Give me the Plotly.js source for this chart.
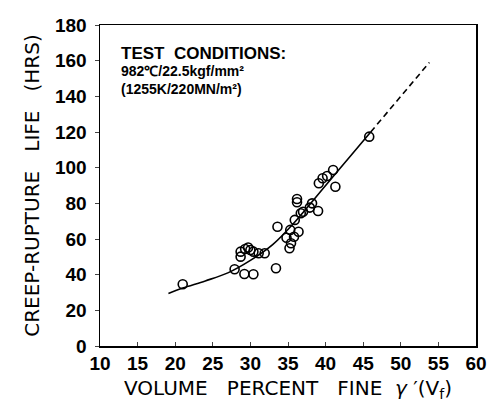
<!DOCTYPE html>
<html><head><meta charset="utf-8">
<script src="https://cdn.plot.ly/plotly-3.0.1.min.js"></script>
<style>body{margin:0;background:#fff}</style>
</head><body><div id="chart" style="width:495px;height:405px"></div>
<script>
// Measured data points (volume percent fine gamma', creep-rupture life hrs)
const vfPoints = [21.0, 27.9, 29.2, 30.4, 33.4, 28.7, 28.7, 29.3, 29.7, 30.0, 30.4, 31.1, 31.9,
  33.6, 34.8, 35.2, 35.4, 35.8, 35.3, 36.4, 35.9, 36.7, 37.0, 39.0, 37.9, 38.2, 36.2, 36.2,
  39.1, 39.6, 40.2, 41.0, 41.3, 45.8];
const lifePoints = [34.6, 43.0, 40.4, 40.2, 43.6, 50.1, 52.9, 54.4, 55.2, 53.8, 52.9, 52.0, 52.0,
  66.9, 60.7, 54.8, 57.6, 61.3, 65.1, 64.1, 70.7, 74.4, 75.3, 75.7, 77.6, 80.0, 80.6, 82.4,
  91.3, 94.1, 95.3, 98.7, 89.3, 117.4];
// Fitted curve (solid) and extrapolation (dashed)
const curveX = [19.1, 21, 24, 27, 30, 33, 36, 40, 43, 46];
const curveY = [29.5, 32.5, 36.5, 41, 48, 57, 70, 90, 105, 120];
const extX = [46, 50, 53.8];
const extY = [120, 140, 159];
const xTicks = [10, 15, 20, 25, 30, 35, 40, 45, 50, 55, 60];
const yTicks = [0, 20, 40, 60, 80, 100, 120, 140, 160, 180];
const noteLines = ['TEST\u00a0\u00a0CONDITIONS:', '982℃/22.5kgf/mm²', '(1255K/220MN/m²)'];

const tickFont = {family: 'Liberation Sans Narrow, Liberation Sans, Arial', size: 19, color: '#000', weight: 700};
const titleFont = {family: 'DejaVu Sans, Arial', size: 20, color: '#000'};
const noteFont = {family: 'Liberation Sans Narrow, Liberation Sans, Arial', size: 14, color: '#000', weight: 700};
const data = [
  {x: curveX, y: curveY, mode: 'lines', line: {color: '#000', width: 1.6, shape: 'spline'}, hoverinfo: 'skip'},
  {x: extX, y: extY, mode: 'lines', line: {color: '#000', width: 1.6, dash: '6px,4px'}, hoverinfo: 'skip'},
  {x: vfPoints, y: lifePoints, mode: 'markers',
   marker: {symbol: 'circle-open', size: 9, color: '#000', line: {width: 1.6, color: '#000'}}}
];
const layout = {
  width: 495, height: 405, showlegend: false,
  paper_bgcolor: '#fff', plot_bgcolor: '#fff',
  margin: {l: 100, r: 19, t: 25, b: 59},
  xaxis: {range: [10, 60], tickvals: xTicks, ticktext: xTicks.map(String), ticks: 'inside', ticklen: 4,
    showgrid: false, zeroline: false, showline: true, mirror: true, linecolor: '#000', linewidth: 1.5,
    tickfont: tickFont, ticklabelstandoff: 0,
    title: {text: 'VOLUME\u00a0\u00a0\u00a0PERCENT\u00a0\u00a0\u00a0FINE\u00a0\u00a0<i>γ</i>\u00a0′(V<sub>f</sub>)', standoff: 7,
      font: titleFont}},
  yaxis: {range: [0, 180], tickvals: yTicks, ticktext: yTicks.map(String), ticks: 'outside', ticklen: 4,
    showgrid: false, zeroline: false, showline: true, mirror: true, linecolor: '#000', linewidth: 1.5,
    tickfont: tickFont, ticklabelstandoff: 4,
    title: {text: 'CREEP-RUPTURE\u00a0\u00a0\u00a0LIFE\u00a0\u00a0\u00a0(HRS)', standoff: 10,
      font: titleFont}},
  annotations: [
    {xref: 'paper', yref: 'paper', x: 0.05, y: 0.91, xanchor: 'left', yanchor: 'middle', showarrow: false,
     text: noteLines[0], font: {family: 'Liberation Sans, Arial', size: 17, color: '#000', weight: 700}},
    {xref: 'paper', yref: 'paper', x: 0.05, y: 0.856, xanchor: 'left', yanchor: 'middle', showarrow: false,
     text: noteLines[1], font: noteFont},
    {xref: 'paper', yref: 'paper', x: 0.05, y: 0.80, xanchor: 'left', yanchor: 'middle', showarrow: false,
     text: noteLines[2], font: noteFont}
  ]
};
Plotly.newPlot('chart', data, layout, {displayModeBar: false, staticPlot: true});
</script></body></html>
